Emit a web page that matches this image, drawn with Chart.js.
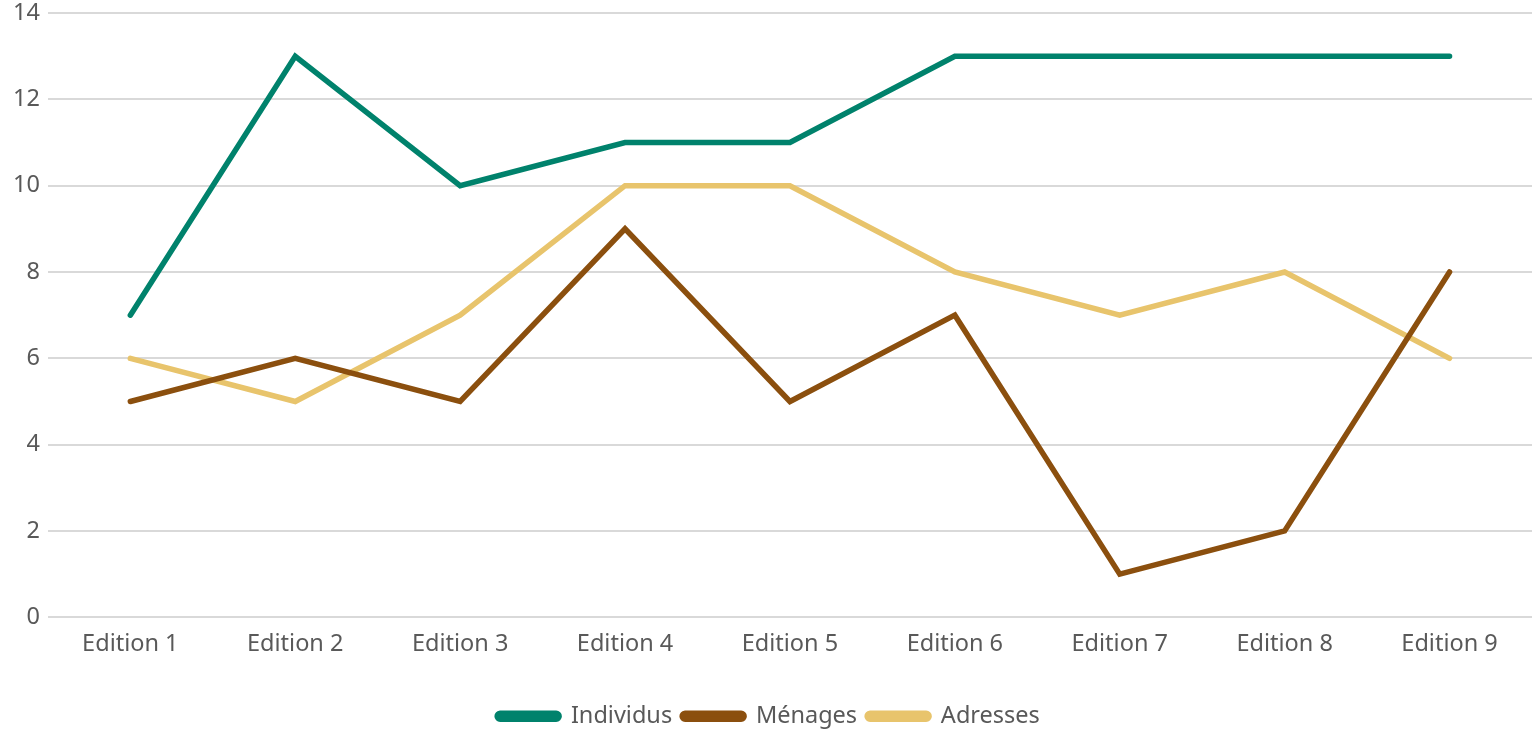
<!DOCTYPE html>
<html>
<head>
<meta charset="utf-8">
<script src="https://cdn.jsdelivr.net/npm/chart.js@4/dist/chart.umd.min.js"></script>
<style>
  html, body { margin: 0; padding: 0; background: #fff; }
  #wrap { width: 1532px; height: 729px; position: relative; }
</style>
</head>
<body>
<div id="wrap"><canvas id="chart"></canvas></div>
<script>
// categories and series
const editions = ['Edition 1', 'Edition 2', 'Edition 3', 'Edition 4', 'Edition 5',
                  'Edition 6', 'Edition 7', 'Edition 8', 'Edition 9'];
const individus = [7, 13, 10, 11, 11, 13, 13, 13, 13];
const menages   = [5, 6, 5, 9, 5, 7, 1, 2, 8];
const adresses  = [6, 5, 7, 10, 10, 8, 7, 8, 6];

const TEAL = '#00826C';
const BROWN = '#8B4F0E';
const SAND = '#E8C46C';

function line(label, data, color) {
  return {
    label: label,
    data: data,
    borderColor: color,
    backgroundColor: color,
    borderWidth: 5.5,
    pointRadius: 0,
    tension: 0,
    borderCapStyle: 'round',
    borderJoinStyle: 'miter'
  };
}

Chart.defaults.font.family = '"Noto Sans", "Open Sans", sans-serif';
Chart.defaults.color = '#595959';

new Chart(document.getElementById('chart'), {
  type: 'line',
  data: {
    labels: editions,
    datasets: [
      line('Individus', individus, TEAL),
      line('Ménages', menages, BROWN),
      line('Adresses', adresses, SAND)
    ]
  },
  options: {
    responsive: true,
    maintainAspectRatio: false,
    animation: false,
    layout: { padding: { top: 0, right: 0, left: 5, bottom: -9 } },
    scales: {
      x: {
        offset: true,
        grid: { display: false, drawTicks: false },
        border: { display: false },
        ticks: { font: { size: 23.5 }, padding: 13 },
        // leave room between the edition labels and the legend
        afterFit: function (scale) { scale.height += 23; }
      },
      y: {
        min: 0,
        max: 14,
        // small lineHeight so the top label doesn't push the plot down
        ticks: { stepSize: 2, font: { size: 23.5, lineHeight: 0.43 }, padding: 8 },
        grid: { color: '#D9D9D9', lineWidth: 2, drawTicks: false },
        border: { display: false }
      }
    },
    plugins: {
      legend: {
        position: 'bottom',
        labels: {
          boxWidth: 62,
          boxHeight: 6,
          useBorderRadius: true,
          borderRadius: 3,
          padding: 10,
          font: { size: 23.5 }
        }
      },
      tooltip: { enabled: false }
    }
  }
});
</script>
</body>
</html>
